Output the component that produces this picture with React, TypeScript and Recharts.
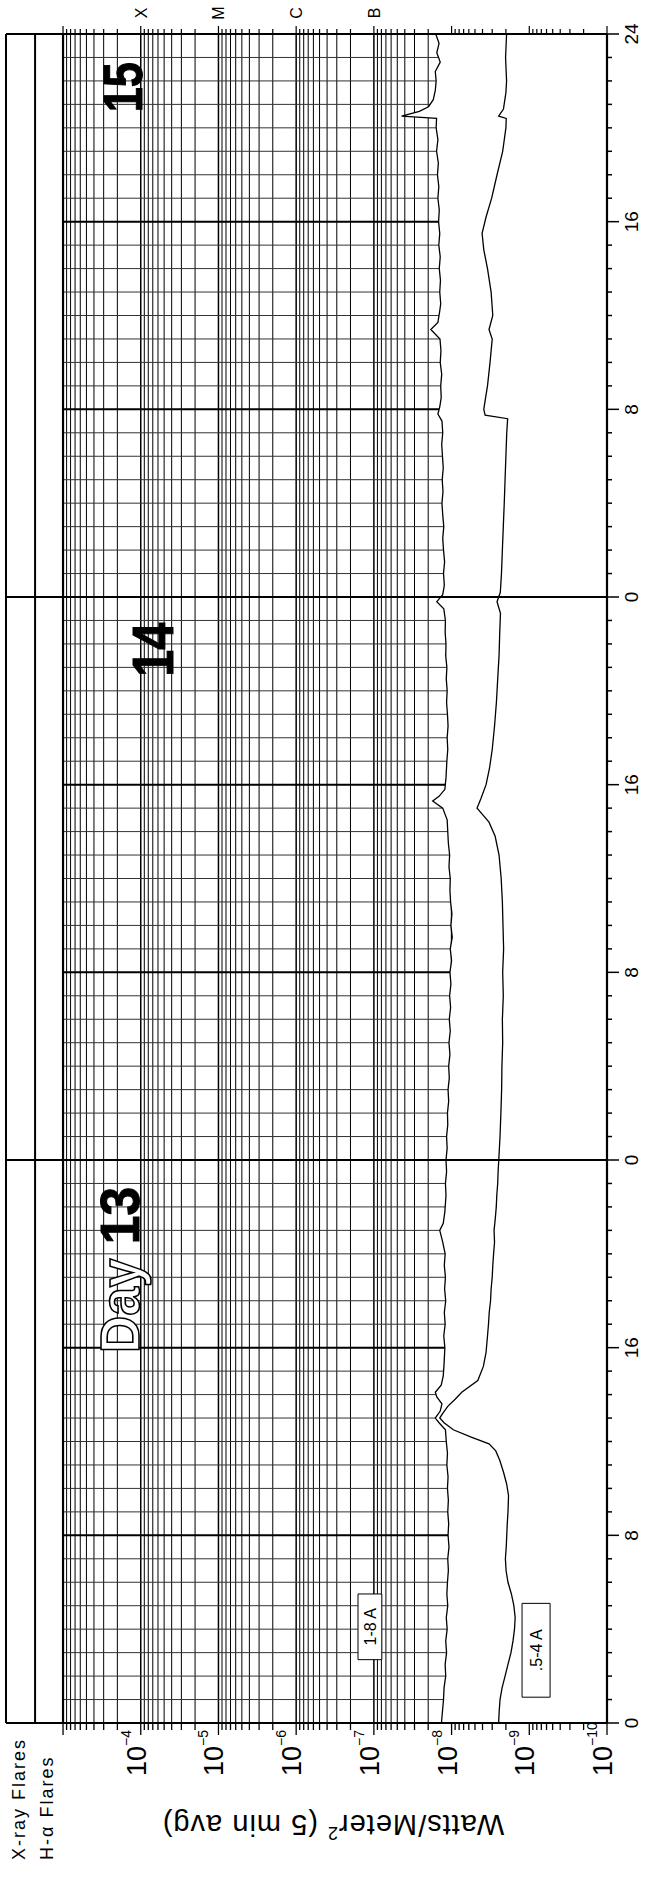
import React from "react";
import {
  ComposedChart,
  Line,
  Area,
  XAxis,
  YAxis,
  ReferenceLine,
  ReferenceArea,
  ReferenceDot,
} from "recharts";

const CHART_W = 1891;
const CHART_H = 645;
const FONT = '"Liberation Sans", Arial, Helvetica, sans-serif';

// ---- time axis (hours from start of day 13) ----
const majorHours = [0, 8, 16, 24, 32, 40, 48, 56, 64, 72];
const majorHourLabels = ["0", "8", "16", "0", "8", "16", "0", "8", "16", "24"];
const dayBoundaryHours = [24, 48];
const allHours = Array.from({ length: 73 }, (_, i) => i);

// ---- flux axis ----
const FLUX_MIN = 1e-10;
const GRID_TOP = 1e-3;
const STRIP_DIVIDER = 2.29e-3;
const FRAME_TOP = 5.42e-3;
const decadeExponents = [-10, -9, -8, -7, -6, -5, -4];
const minorSteps = [1, 2, 3, 4, 5, 6, 7, 8, 9];
const fluxGridValues = [
  ...decadeExponents.flatMap((e) => minorSteps.map((k) => k * Math.pow(10, e))),
  GRID_TOP,
];
const labelledDecades = [1e-10, 1e-9, 1e-8, 1e-7, 1e-6, 1e-5, 1e-4];
const decadeLabelExps = ["\u221210", "\u22129", "\u22128", "\u22127", "\u22126", "\u22125", "\u22124"];
const classLevels = [1e-4, 1e-5, 1e-6, 1e-7];
const classLetters = ["X", "M", "C", "B"];

// ---- day labels ----
const dayLabelTexts = ["13", "14", "15"];
const dayLabelEndHours = [22.85, 46.9, 70.8];
const dayLabelLevels = [1.05e-4, 3.8e-5, 9.6e-5];

// ---- GOES X-ray flux, 1-8 A (hour, W/m^2) ----
const xray18: [number, number][] = [
  [0, 1.35e-8], [0.5, 1.31e-8], [1, 1.27e-8], [1.5, 1.25e-8], [2, 1.19e-8], [2.5, 1.21e-8],
  [3, 1.16e-8], [3.5, 1.19e-8], [4, 1.14e-8], [4.5, 1.17e-8], [5, 1.12e-8], [5.5, 1.15e-8],
  [6, 1.13e-8], [6.5, 1.1e-8], [7, 1.12e-8], [7.5, 1.08e-8], [8, 1.11e-8], [8.5, 1.09e-8],
  [9, 1.12e-8], [9.5, 1.1e-8], [10, 1.13e-8], [10.5, 1.11e-8], [11, 1.15e-8], [11.5, 1.13e-8],
  [12, 1.17e-8], [12.5, 1.2e-8], [12.8, 1.45e-8], [13, 1.62e-8], [13.3, 1.4e-8], [13.6, 1.33e-8],
  [13.9, 1.55e-8], [14.1, 1.62e-8], [14.4, 1.36e-8], [14.8, 1.28e-8], [15.3, 1.25e-8], [16, 1.22e-8],
  [16.5, 1.26e-8], [17, 1.21e-8], [17.5, 1.24e-8], [18, 1.19e-8], [18.5, 1.23e-8], [19, 1.2e-8],
  [19.5, 1.24e-8], [20, 1.21e-8], [20.5, 1.3e-8], [21, 1.42e-8], [21.3, 1.28e-8], [21.8, 1.22e-8],
  [22.5, 1.18e-8], [23, 1.2e-8], [23.5, 1.16e-8], [24, 1.18e-8],
  [24.5, 1.14e-8], [25, 1.16e-8], [25.5, 1.12e-8], [26, 1.13e-8], [26.5, 1.09e-8], [27, 1.11e-8],
  [27.5, 1.07e-8], [28, 1.09e-8], [28.5, 1.05e-8], [29, 1.08e-8], [29.5, 1.04e-8], [30, 1.07e-8],
  [30.5, 1.03e-8], [31, 1.06e-8], [31.5, 1.02e-8], [32, 1.05e-8], [32.5, 1.0e-8], [33, 1.04e-8],
  [33.5, 0.98e-8], [34, 1.02e-8], [34.5, 0.99e-8], [35, 1.03e-8], [35.5, 1.05e-8], [36, 1.04e-8],
  [36.5, 1.08e-8], [37, 1.06e-8], [37.5, 1.1e-8], [38, 1.12e-8], [38.5, 1.14e-8], [39, 1.3e-8],
  [39.3, 1.75e-8], [39.5, 1.45e-8], [39.8, 1.22e-8], [40.3, 1.18e-8], [41, 1.15e-8], [41.5, 1.12e-8],
  [42, 1.14e-8], [42.5, 1.11e-8], [43, 1.13e-8], [43.5, 1.16e-8], [44, 1.14e-8], [44.5, 1.17e-8],
  [45, 1.15e-8], [45.5, 1.19e-8], [46, 1.18e-8], [46.5, 1.21e-8], [47, 1.2e-8], [47.5, 1.26e-8],
  [47.8, 1.55e-8],
  [48.1, 1.3e-8], [48.5, 1.24e-8], [49, 1.27e-8], [49.5, 1.23e-8], [50, 1.27e-8], [50.5, 1.3e-8],
  [51, 1.26e-8], [51.5, 1.3e-8], [52, 1.33e-8], [52.5, 1.29e-8], [53, 1.32e-8], [53.5, 1.28e-8],
  [54, 1.31e-8], [54.5, 1.34e-8], [55, 1.3e-8], [55.5, 1.33e-8], [55.8, 1.5e-8], [56.1, 1.42e-8],
  [56.5, 1.36e-8], [57, 1.38e-8], [57.5, 1.34e-8], [58, 1.4e-8], [58.5, 1.37e-8], [59, 1.41e-8],
  [59.4, 1.85e-8], [59.7, 1.5e-8], [60.2, 1.42e-8], [60.5, 1.38e-8], [61, 1.42e-8], [61.5, 1.39e-8],
  [62, 1.44e-8], [62.5, 1.4e-8], [63, 1.46e-8], [63.5, 1.42e-8], [64, 1.47e-8], [64.5, 1.44e-8],
  [65, 1.5e-8], [65.5, 1.46e-8], [66, 1.52e-8], [66.5, 1.48e-8], [67, 1.56e-8], [67.5, 1.5e-8],
  [68, 1.58e-8], [68.4, 1.56e-8], [68.5, 4.4e-8], [68.7, 2.6e-8], [68.9, 1.98e-8], [69.2, 1.72e-8],
  [69.6, 1.62e-8], [70, 1.58e-8], [70.4, 1.62e-8], [70.8, 1.4e-8], [71.2, 1.55e-8], [71.6, 1.45e-8],
  [72, 1.6e-8],
];

// ---- GOES X-ray flux, 0.5-4 A (hour, W/m^2) ----
const xray054: [number, number][] = [
  [0, 2.48e-9], [0.5, 2.44e-9], [1, 2.38e-9], [1.5, 2.24e-9], [2, 2.05e-9], [2.5, 1.88e-9],
  [3, 1.72e-9], [3.5, 1.62e-9], [4, 1.55e-9], [4.5, 1.52e-9], [5, 1.58e-9], [5.5, 1.7e-9],
  [6, 1.88e-9], [6.5, 1.99e-9], [7, 2.03e-9], [7.5, 1.98e-9], [8, 1.95e-9], [8.5, 1.92e-9],
  [9, 1.88e-9], [9.7, 1.85e-9], [10.2, 1.96e-9], [10.7, 2.15e-9], [11.2, 2.4e-9], [11.6, 2.7e-9],
  [11.9, 3.3e-9], [12.2, 5.7e-9], [12.5, 9.5e-9], [12.8, 1.25e-8], [13, 1.42e-8], [13.2, 1.3e-8],
  [13.5, 1.12e-8], [13.8, 9.0e-9], [14.1, 7.4e-9], [14.6, 4.6e-9], [15.2, 3.9e-9], [15.8, 3.6e-9],
  [16.5, 3.45e-9], [17, 3.35e-9], [17.5, 3.28e-9], [18, 3.15e-9], [18.5, 3.1e-9], [19, 3.0e-9],
  [19.5, 2.95e-9], [20, 2.88e-9], [20.5, 2.8e-9], [21, 2.84e-9], [21.5, 2.74e-9], [22, 2.66e-9],
  [22.5, 2.62e-9], [23, 2.55e-9], [23.5, 2.52e-9], [24, 2.47e-9],
  [25, 2.38e-9], [26, 2.32e-9], [27, 2.27e-9], [28, 2.25e-9], [29, 2.2e-9], [30, 2.22e-9],
  [31, 2.16e-9], [32, 2.2e-9], [33, 2.14e-9], [34, 2.18e-9], [35, 2.22e-9], [36, 2.3e-9],
  [37, 2.45e-9], [37.8, 2.75e-9], [38.4, 3.3e-9], [39, 4.7e-9], [39.4, 4.2e-9], [40, 3.6e-9],
  [40.7, 3.25e-9], [41.5, 3.0e-9], [42.5, 2.8e-9], [43.5, 2.65e-9], [44.5, 2.55e-9], [45.5, 2.45e-9],
  [46.5, 2.4e-9], [47.3, 2.35e-9], [47.8, 2.6e-9],
  [48.2, 2.36e-9], [49, 2.28e-9], [50, 2.22e-9], [51, 2.16e-9], [52, 2.1e-9], [53, 2.05e-9],
  [54, 2.0e-9], [55, 1.95e-9], [55.6, 1.9e-9], [55.75, 3.7e-9], [56, 3.85e-9], [56.5, 3.65e-9],
  [57, 3.45e-9], [58, 3.2e-9], [59, 3.0e-9], [59.4, 3.3e-9], [60, 2.95e-9], [61, 3.1e-9],
  [62, 3.45e-9], [62.8, 3.85e-9], [63.5, 4.05e-9], [64.2, 3.6e-9], [65, 3.05e-9], [66, 2.6e-9],
  [67, 2.2e-9], [68, 2.0e-9], [68.4, 1.98e-9], [68.5, 2.48e-9], [68.8, 2.15e-9], [69.5, 2.0e-9],
  [70, 1.96e-9], [71, 2.02e-9], [72, 1.96e-9],
];

const longData = xray18.map(([t, f]) => ({ t, f }));
const shortData = xray054.map(([t, f]) => ({ t, f }));

const near = (a: number, b: number) => Math.abs(a / b - 1) < 1e-6;
const isDecade = (v: number) => {
  const e = Math.log10(v);
  return Math.abs(e - Math.round(e)) < 1e-6;
};

// ---- tick renderers ----
const TimeTick = (props: any) => {
  const { x, y, payload } = props;
  const idx = majorHours.indexOf(payload.value);
  const len = idx >= 0 ? 12 : 5;
  return (
    <g>
      <line x1={x} y1={y} x2={x} y2={y + len} stroke="#000" strokeWidth={1.5} />
      {idx >= 0 && (
        <text x={x} y={y + 31} textAnchor="middle" fontSize={19} fontFamily={FONT} fill="#000">
          {majorHourLabels[idx]}
        </text>
      )}
    </g>
  );
};

const LeftTick = (props: any) => {
  const { x, y, payload } = props;
  const v = payload.value;
  const dec = isDecade(v);
  const len = dec ? 12 : 7;
  const li = labelledDecades.findIndex((d) => near(v, d));
  return (
    <g>
      <line x1={x - len} y1={y} x2={x} y2={y} stroke="#000" strokeWidth={1.3} />
      {li >= 0 && (
        <g fontFamily={FONT} fill="#000">
          <text x={x - 23} y={y + 5} textAnchor="end" fontSize={27}>10</text>
          <text x={x - 23} y={y - 10} textAnchor="start" fontSize={14}>{decadeLabelExps[li]}</text>
        </g>
      )}
    </g>
  );
};

const RightTick = (props: any) => {
  const { x, y, payload } = props;
  const v = payload.value;
  const len = isDecade(v) ? 8 : 5;
  const ci = classLevels.findIndex((d) => near(v, d));
  return (
    <g>
      <line x1={x} y1={y} x2={x + len} y2={y} stroke="#000" strokeWidth={1.2} />
      {ci >= 0 && (
        <text x={x + 21} y={y + 6} textAnchor="middle" fontSize={16} fontFamily={FONT} fill="#000">
          {classLetters[ci]}
        </text>
      )}
    </g>
  );
};

const SideTexts = () => (
  <g fontFamily={FONT} fill="#000">
    <text transform="translate(76,333) rotate(-90)" textAnchor="middle" fontSize={29} letterSpacing={1}>
      Watts/Meter
      <tspan fontSize={18} dy={-12}>2</tspan>
      <tspan dy={12}> (5 min avg)</tspan>
    </text>
    <text x={31} y={25} fontSize={18} letterSpacing={2}>X-ray Flares</text>
    <text x={31} y={53} fontSize={18} letterSpacing={2}>H-α Flares</text>
  </g>
);

const BoxText = (props: any) => {
  const { viewBox, text } = props;
  if (!viewBox) return null;
  return (
    <text
      x={viewBox.x + viewBox.width / 2}
      y={viewBox.y + viewBox.height / 2 + 6}
      textAnchor="middle"
      fontSize={16}
      fontFamily={FONT}
      fill="#000"
    >
      {text}
    </text>
  );
};

const makeDayShape = (i: number) => (p: any) => (
  <text
    x={p.cx}
    y={p.cy}
    textAnchor="end"
    fontSize={i === 1 ? 58 : 55}
    fontWeight="bold"
    fontFamily={FONT}
    textLength={i === 0 ? 166 : i === 1 ? 54 : 50}
    lengthAdjust="spacingAndGlyphs"
  >
    {i === 0 && (
      <tspan fill="#fff" stroke="#000" strokeWidth={1.6}>
        {"Day "}
      </tspan>
    )}
    <tspan fill="#000" stroke="#000" strokeWidth={1}>
      {dayLabelTexts[i]}
    </tspan>
  </text>
);

// ---- one chart layer (all layers share identical scales) ----
function ChartLayer({ children, axes }: { children?: React.ReactNode; axes: boolean }) {
  return (
    <div style={{ position: "absolute", left: 0, top: 0 }}>
      <ComposedChart
        width={CHART_W}
        height={CHART_H}
        data={longData}
        margin={{ top: 6, right: 0, bottom: 0, left: 0 }}
        style={{ fontFamily: FONT }}
      >
        <XAxis
          dataKey="t"
          type="number"
          domain={[0, 72]}
          ticks={allHours}
          interval={0}
          height={38}
          tickSize={0}
          tickMargin={0}
          axisLine={false}
          tickLine={false}
          tick={axes ? <TimeTick /> : false}
          allowDataOverflow
        />
        <YAxis
          type="number"
          scale="log"
          domain={[FLUX_MIN, FRAME_TOP]}
          ticks={fluxGridValues}
          interval={0}
          width={168}
          tickSize={0}
          tickMargin={0}
          axisLine={false}
          tickLine={false}
          tick={axes ? <LeftTick /> : false}
          allowDataOverflow
          label={axes ? <SideTexts /> : undefined}
        />
        <YAxis
          yAxisId="cls"
          orientation="right"
          type="number"
          scale="log"
          domain={[FLUX_MIN, FRAME_TOP]}
          ticks={fluxGridValues}
          interval={0}
          width={34}
          tickSize={0}
          tickMargin={0}
          axisLine={false}
          tickLine={false}
          tick={axes ? <RightTick /> : false}
          allowDataOverflow
        />
        {children}
      </ComposedChart>
    </div>
  );
}

export default function App() {
  const hourGrid = allHours.filter((h) => h > 0 && h < 72 && !dayBoundaryHours.includes(h));
  return (
    <div
      style={{
        position: "absolute",
        left: 0,
        top: 0,
        width: 645,
        height: 1891,
        overflow: "hidden",
        background: "#fff",
      }}
    >
      <div
        style={{
          position: "absolute",
          left: 0,
          top: 0,
          width: CHART_W,
          height: CHART_H,
          transformOrigin: "0 0",
          transform: `translateY(${CHART_W}px) rotate(-90deg)`,
        }}
      >
        {/* layer 1: grid */}
        <ChartLayer axes={false}>
          {fluxGridValues.map((v) => (
            <ReferenceLine
              key={"fg" + v}
              segment={[{ x: 0, y: v }, { x: 72, y: v }]}
              stroke="#000"
              strokeWidth={isDecade(v) ? 1.5 : 1}
              ifOverflow="visible"
            />
          ))}
          {hourGrid.map((h) => (
            <ReferenceLine
              key={"hg" + h}
              segment={[{ x: h, y: FLUX_MIN }, { x: h, y: GRID_TOP }]}
              stroke={h % 8 === 0 ? "#000" : "#333"}
              strokeWidth={h % 8 === 0 ? 2 : 1}
              ifOverflow="visible"
            />
          ))}
        </ChartLayer>

        {/* layer 2: blank the grid beneath the 1-8 A curve */}
        <ChartLayer axes={false}>
          <Area
            data={longData}
            dataKey="f"
            type="linear"
            baseValue={FLUX_MIN}
            fill="#fff"
            fillOpacity={1}
            stroke="none"
            isAnimationActive={false}
            dot={false}
            activeDot={false}
          />
        </ChartLayer>

        {/* layer 3: frame, curves, labels, axes */}
        <ChartLayer axes={true}>
          <ReferenceLine segment={[{ x: 0, y: FRAME_TOP }, { x: 72, y: FRAME_TOP }]} stroke="#000" strokeWidth={2} ifOverflow="visible" />
          <ReferenceLine segment={[{ x: 0, y: STRIP_DIVIDER }, { x: 72, y: STRIP_DIVIDER }]} stroke="#000" strokeWidth={2} ifOverflow="visible" />
          <ReferenceLine segment={[{ x: 0, y: GRID_TOP }, { x: 72, y: GRID_TOP }]} stroke="#000" strokeWidth={2.2} ifOverflow="visible" />
          <ReferenceLine segment={[{ x: 0, y: FLUX_MIN }, { x: 72, y: FLUX_MIN }]} stroke="#000" strokeWidth={2.2} ifOverflow="visible" />
          <ReferenceLine segment={[{ x: 0, y: FLUX_MIN }, { x: 0, y: FRAME_TOP }]} stroke="#000" strokeWidth={2.2} ifOverflow="visible" />
          <ReferenceLine segment={[{ x: 72, y: FLUX_MIN }, { x: 72, y: FRAME_TOP }]} stroke="#000" strokeWidth={2.2} ifOverflow="visible" />
          {dayBoundaryHours.map((h) => (
            <ReferenceLine
              key={"db" + h}
              segment={[{ x: h, y: FLUX_MIN }, { x: h, y: FRAME_TOP }]}
              stroke="#000"
              strokeWidth={2.2}
              ifOverflow="visible"
            />
          ))}
          <ReferenceArea
            x1={2.7}
            x2={5.5}
            y1={7.9e-8}
            y2={1.6e-7}
            fill="#fff"
            fillOpacity={1}
            stroke="#000"
            strokeWidth={1}
            ifOverflow="visible"
            label={<BoxText text="1-8 A" />}
          />
          <ReferenceArea
            x1={1.1}
            x2={5.1}
            y1={5.4e-10}
            y2={1.24e-9}
            fill="#fff"
            fillOpacity={1}
            stroke="#000"
            strokeWidth={1}
            ifOverflow="visible"
            label={<BoxText text=".5-4 A" />}
          />
          <Line
            data={longData}
            dataKey="f"
            type="linear"
            stroke="#000"
            strokeWidth={1.3}
            dot={false}
            activeDot={false}
            isAnimationActive={false}
          />
          <Line
            data={shortData}
            dataKey="f"
            type="linear"
            stroke="#000"
            strokeWidth={1.3}
            dot={false}
            activeDot={false}
            isAnimationActive={false}
          />
          {dayLabelTexts.map((_, i) => (
            <ReferenceDot
              key={"dl" + i}
              x={dayLabelEndHours[i]}
              y={dayLabelLevels[i]}
              r={0}
              ifOverflow="visible"
              shape={makeDayShape(i)}
            />
          ))}
        </ChartLayer>
      </div>
    </div>
  );
}
